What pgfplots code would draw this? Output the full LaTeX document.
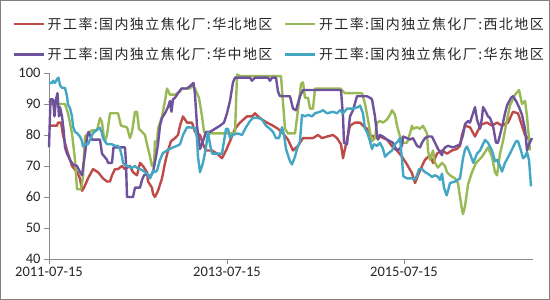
\documentclass[border=0pt]{standalone}
\usepackage{pgfplots}
\usepackage{pgfplotstable}
\pgfplotsset{compat=1.18}
\usepackage{fontspec}
\setmainfont{Carlito}
\newfontfamily\cjk{Noto Sans CJK SC}[LetterSpace=10]
\definecolor{cred}{HTML}{BE4B48}
\definecolor{cgreen}{HTML}{98B954}
\definecolor{cpurple}{HTML}{6E539C}
\definecolor{ccyan}{HTML}{43A7C3}
\definecolor{axgray}{HTML}{8A8A8A}

% x = horizontal position on the date axis (2011-07-15 at 49, 2013-07-15 at 227, 2015-07-15 at 404)
\pgfplotstableread{
x y
49 83
52 83
57 83
58 84
61 84
63 80
67 75
70 72
72 70
77 68
80 66
82 62
84 63
88 66
93 69
98 68
103 66
107 65
110 65
112 67
115 69
118 69
122 70
125 69
130 70
133 68
137 67
140 71
143 70
147 68
148 65
152 63
153 61
155 60
158 62
162 66
165 71
168 75
171 78
175 79
178 80
180 83
183 86
185 85
187 84
192 84
195 81
200 80
203 77
206 75
212 75
217 74
222 72.5
226 75
230 78
235 82
240 84
247 86
252 86
255 87
258 86
262 85
267 84
273 83
278 82
283 80.5
288 78.5
293 75
298 76.5
303 79
308 79
313 79
318 80
322 79
327 79.5
333 80
337 79
341 77
343 72.5
346 77
350 83
355 84
360 84
363 83
367 82
370 80
377 79
380 79.5
387 78.5
393 76
397 75
402 73
407 70.5
412 67.7
415 64.5
418 67
422 70
425 72
430 73.5
433 71
437 74
442 75
447 74
452 75
457 75.5
460 76.5
462 80
465 83
470 82.5
475 79.5
478 81.5
482 83.5
487 84
492 83
497 84
502 83
508 84
513 87.5
518 87
522 83
525 80
528 79
531 78
}\north

\pgfplotstableread{
x y
49 91
52 90
58 90
65 90
68 87
72 80.5
75 72
77 62.5
81 62.5
83 66.5
85 79.5
88 80.5
92 81.5
97 81.5
100 85.5
102 84
104 79
105 78
107 80
110 87
118 87
121 83
127 82.5
130 79
132 81
135 87.5
137 87.5
139 82
142 81
145 80
147 77
150 73
152 70
154 70
155 78
157 77
158 82
162 86
165 91
167 95
170 93
175 93
180 94
182 95
190 95
192 96
195 95
199 92
202 86
204 81
207 80.5
235 80.5
237 99.5
240 99
281 99
285 82
288 80.5
295 80.5
298 88
301 96.5
303 97
305 92
308 92
310 88.5
313 88.5
315 95
340 95
345 93.5
362 93.5
365 90
368 85
370 81
372 78
375 79
377 84
380 84.5
383 84
387 85
390 86.5
392 88
395 86.5
397 83
400 79.5
403 77.5
407 77.5
410 80.5
412 83
413 82
417 82.5
420 82
423 83
427 80.5
428 75
430 72
433 75
435 71
438 69.5
442 71
445 70
447 68
450 67
455 66
458 64.5
460 60
462 56
463 54.5
465 57
468 64
472 68
476 71
482 73
488 76
492 73
495 68
497 67
500 74
503 78
507 85
510 89.5
515 93
519 94.5
522 90
525 91
527 86
530 75
}\northwest

\pgfplotstableread{
x y
49 76
50.5 91.5
53 91.5
54.5 86
56 91.5
57.5 93.5
59 86
60 89
62 86
63.5 82
65 76
67 74
70 72
73 70.5
77 70
80 68
82 67
85 74
87 79
88.5 81
90 80
92 78.5
100 78.5
102 74
107 72
108 71
112 71
113.5 76
125 76
126 71
127 60
133 60
135 63
140 63
142 65.5
144 67
147 67.5
150 66.5
153 68
156 73
158 77
160 83
162 85.5
165 87
168 89
170 91
171.5 87.5
173 91.5
175 92
178 93.5
181.5 95
187 95
191 96
193.5 96.8
195 93
197 83
200 75.5
203 78
206 81
210 81
215 82
220 83
224 84
227 87
230 91
233 97
235 98.5
250 98.5
252 97.5
255 98.5
268 98.5
270 97.5
272 98.5
276 98.5
278 94
280 92.5
290 92.5
293 88.5
296 88
300 92.5
303 94.5
341 94.5
343 86
344 77.5
347 77
350 86
353 88
357 92.5
367 92.5
370 92
372 91.5
375 86
377 80
378 78.5
380 80
383 79.5
387 78.5
390 78
393 77.5
395 76
398 75
402 76.5
403 79.5
407 79
410 78.5
413 79
417 76.5
420 76
422 77.5
425 79
428 79.5
432 79.5
435 77.5
438 75.5
442 73.5
443 75
445 76
448 76.5
453 76
457 76.5
460 77
463 80
465 83.5
468 84.5
470 84
472 86
475 89
477 85
480 82
482 85.5
483 89
485 88
488 86
490 85.5
493 83
496 77.5
498 77.5
500 80
503 84
505 87
507 89.5
511 92
513 92.5
516 91
519 89
522 86.5
525 82
527 75
529 77
532 79
}\central

\pgfplotstableread{
x y
49 96.8
52 96.8
53 97.5
55 96.8
57 98
58.5 98.5
60 96
62 95.2
65 95.2
67 92.5
68 89.8
70 88.7
72 86
73 82.8
75 81
77 80.6
80 79.5
82 78
83 76.3
85 77
88 77
93 80.6
97 81.7
100 82.3
102 80.6
103 79
107 77
112 77
115 76.5
118 76.5
120 75.5
122 73
123 71
125 70.3
128 69.9
132 69.4
135 70
137 69.4
140 69
143 68.5
147 67.5
150 66
152 67.5
153 68.5
155 68
157 68.5
160 72
163 74.2
167 75
170 75.5
173 76
177 76.5
180 77
183 80
187 82.5
195 82.3
197 79
198 73
200 68
203 71
206 76
208 81
210 77
212 74
222 74
224 78
226 82
228 82
230 79
232 80
238 80.5
242 80
246 82.5
250 84.5
253 85.5
258 85.5
262 85
266 83
270 82
273 81
276 79
279 79
282 82.5
284 80
286 75.5
290 71.5
292 70.5
295 73
297 75.5
300 78
302 86.5
305 86
308 86.5
312 86
315 87
320 87.5
323 88
327 87
333 87.5
337 87
340 88
343 87
347 88.5
353 88.5
358 89
360 89.5
363 87
365 82
367 81
370 78
372 75.5
374 77
377 76.5
380 77.5
383 75.5
385 73
388 74
392 75
395 77
398 78
400 79
402 72
403.3 66.7
407 66
412 66
415 65.6
417 67
419 69
422 69
425 68
428 67.5
432 66.5
435 67
438 66.5
440 65.5
442 67.5
444 63
446.7 60.5
448 62
450 64.5
455 65
460 66
463 72.5
465 75.3
467 76.3
470 74
473.3 71
477 74
480 75
485 78.4
488 77.5
492 75
495 71.5
497 72
500 70
502 68.2
505 71
510 74
513 76
516 78
518 78
521 75
523 72.5
525 73
527 74.5
529 72
531 63.4
}\east

\begin{document}
\begin{tikzpicture}
\useasboundingbox (0,0) rectangle (550pt,300pt);
\draw[black!50, line width=1.2pt] (0.6pt,0.6pt) rectangle (549.4pt,299.4pt);
\begin{axis}[
  at={(49pt,41pt)}, anchor=south west,
  scale only axis, width=484pt, height=186pt,
  xmin=49, xmax=533, ymin=40, ymax=100,
  clip=false,
  axis x line*=bottom, axis y line*=left,
  axis line style={axgray, line width=0.8pt, -},
  xtick={49,227,404}, xticklabels={2011-07-15,2013-07-15,2015-07-15},
  ytick={40,50,...,100},
  minor tick num=0,
  tick align=outside, major tick length=5pt,
  tick style={axgray, line width=0.8pt},
  tick label style={font=\fontsize{14.5}{14.5}\selectfont, text=black!85},
  /pgf/number format/assume math mode=true,
  every axis plot/.append style={line width=2.4pt, line join=round, no markers},
  legend columns=2,
  legend cell align=left,
  legend image code/.code={\draw[#1, line width=2.6pt] (0pt,0pt) -- (30pt,0pt); \path (33pt,0pt);},
  legend style={at={(-0.0764,1.301)}, anchor=north west, draw=none, fill=none,
    inner sep=0pt, nodes={inner sep=0pt},
    font=\cjk\fontsize{14}{16}\selectfont, text=black!85,
    row sep=17pt,
    /tikz/every even column/.append style={column sep=11pt}},
]
\addplot[cred] table[x=x, y=y] {\north};
\addlegendentry{开工率:国内独立焦化厂:华北地区}
\addplot[cgreen] table[x=x, y=y] {\northwest};
\addlegendentry{开工率:国内独立焦化厂:西北地区}
\addplot[cpurple] table[x=x, y=y] {\central};
\addlegendentry{开工率:国内独立焦化厂:华中地区}
\addplot[ccyan] table[x=x, y=y] {\east};
\addlegendentry{开工率:国内独立焦化厂:华东地区}
\end{axis}
\end{tikzpicture}
\end{document}
